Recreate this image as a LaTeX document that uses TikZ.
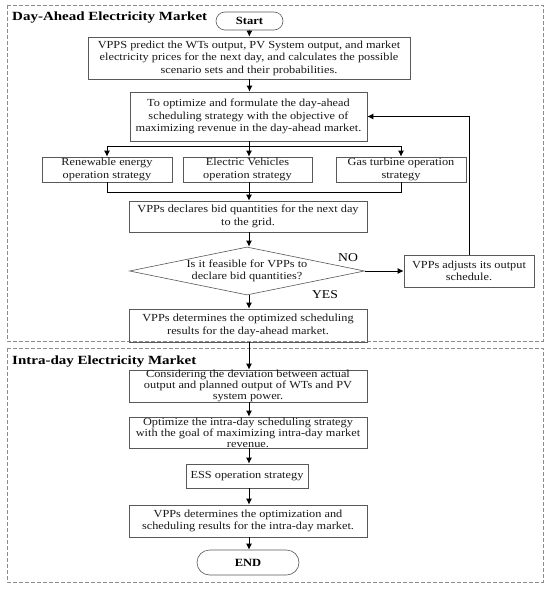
\documentclass[tikz,border=0pt]{standalone}
\usepackage{fontspec}
\setmainfont{Liberation Serif}[FakeStretch=1.14]
\newfontfamily\ttlfont{Liberation Serif}[FakeStretch=1.2]
\usetikzlibrary{arrows.meta,shapes.geometric,shapes.misc}
\begin{document}
\begin{tikzpicture}[x=1pt,y=-1pt,
  bx/.style={draw=black!65, line width=0.6pt, align=center, inner sep=0pt,
    font=\fontsize{10.8}{12.5}\selectfont, text=black!90},
  tight/.style={font=\fontsize{10.8}{11}\selectfont},
  pill/.style={draw=black!65, line width=0.6pt, rounded rectangle, inner sep=0pt,
    font=\bfseries\fontsize{11}{12}\selectfont},
  arr/.style={-{Latex[length=6pt,width=6pt]}, line width=1pt},
  ln/.style={line width=1pt},
  region/.style={draw=black!45, line width=0.7pt, dash pattern=on 4pt off 2pt},
  ttl/.style={anchor=west, inner sep=0pt, font=\ttlfont\bfseries\fontsize{12.5}{14}\selectfont},
  lbl/.style={inner sep=0pt, font=\fontsize{12}{13}\selectfont}]
\useasboundingbox (0,0) rectangle (550,591);
\fill[white] (0,0) rectangle (550,591);
\draw[region] (7,5) rectangle (543,341);
\draw[region] (7,348) rectangle (543,582);
\node[ttl] (t1) at (12,18) {Day-Ahead Electricity Market};
\node[ttl] (t2) at (12,362) {Intra-day Electricity Market};

\node[pill, minimum width=67, minimum height=18] (start) at (249.5,21) {Start};
\node[bx, minimum width=322, minimum height=42] (b1) at (249,58)
  {VPPS predict the WTs output, PV System output, and market\\ electricity prices for the next day, and calculates the possible\\ scenario sets and their probabilities.};
\node[bx, minimum width=237, minimum height=49] (b2) at (248.5,116.5)
  {To optimize and formulate the day-ahead\\ scheduling strategy with the objective of\\ maximizing revenue in the day-ahead market.};
\node[bx, minimum width=130, minimum height=25] (rA) at (107,169.5)
  {Renewable energy\\ operation strategy};
\node[bx, minimum width=129, minimum height=25] (rB) at (247.5,169.5)
  {Electric Vehicles\\ operation strategy};
\node[bx, minimum width=130, minimum height=25] (rC) at (401,169.5)
  {Gas turbine operation\\ strategy};
\node[bx, minimum width=238, minimum height=31] (bD) at (248,216.5)
  {VPPs declares bid quantities for the next day\\ to the grid.};
\node[bx, diamond, aspect=4.9, minimum width=235, minimum height=48] (dia) at (247,271)
  {Is it feasible for VPPs to\\ declare bid quantities?};
\node[bx, minimum width=130, minimum height=32] (bE) at (469,271)
  {VPPs adjusts its output\\ schedule.};
\node[bx, minimum width=238, minimum height=33] (bF) at (248,325.5)
  {VPPs determines the optimized scheduling\\ results for the day-ahead market.};
\node[bx, tight, minimum width=238, minimum height=32] (bG) at (248,386)
  {Considering the deviation between actual\\ output and planned output of WTs and PV\\ system power.};
\node[bx, tight, minimum width=238, minimum height=31] (bH) at (248,432.5)
  {Optimize the intra-day scheduling strategy\\ with the goal of maximizing intra-day market\\ revenue.};
\node[bx, minimum width=122, minimum height=24] (bI) at (247,476)
  {ESS operation strategy};
\node[bx, minimum width=238, minimum height=32] (bJ) at (248,521)
  {VPPs determines the optimization and\\ scheduling results for the intra-day market.};
\node[pill, minimum width=102, minimum height=25] (end) at (248,562.5) {END};

\coordinate (split) at (249,146);
\coordinate (merge) at (249,192);
\draw[arr] (start) -- (b1);
\draw[arr] (b1.south -| start) -- (b2.north -| start);
\draw[ln] (b2.south -| split) -- (split);
\draw[arr] (split) -| (rA.north);
\draw[arr] (split) -- (rB.north -| split);
\draw[arr] (split) -| (rC.north);
\draw[ln] (rA.south) |- (merge);
\draw[ln] (rC.south) |- (merge);
\draw[arr] (rB.south -| merge) -- (bD.north -| merge);
\draw[arr] (bD.south -| merge) -- (dia.north -| merge);
\draw[arr] (dia.east) -- (bE.west);
\node[lbl] (no) at (348,258) {NO};
\draw[arr] (bE.north) |- (b2.east);
\draw[arr] (dia.south -| merge) -- (bF.north -| merge);
\node[lbl] (yes) at (325,295) {YES};
\draw[arr] (bF.south -| merge) -- (bG.north -| merge);
\draw[arr] (bG.south -| merge) -- (bH.north -| merge);
\draw[arr] (bH.south -| merge) -- (bI.north -| merge);
\draw[arr] (bI.south -| merge) -- (bJ.north -| merge);
\draw[arr] (bJ.south -| merge) -- (end.north -| merge);
\end{tikzpicture}
\end{document}
